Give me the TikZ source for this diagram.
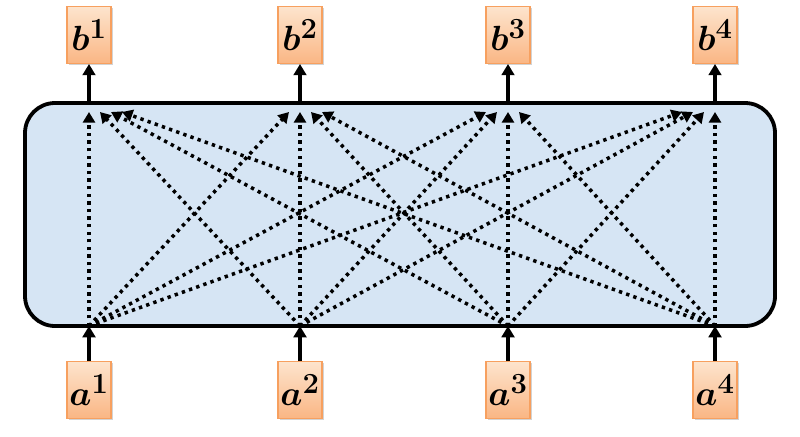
\documentclass[tikz,border=0pt]{standalone}
\usepackage{amsmath}
\usepackage{amssymb}
\usepackage{bm}
\usepackage{tikz}
\usetikzlibrary{arrows.meta , shadows}

\definecolor{boxline}{RGB}{247,160,95}
\definecolor{boxtop}{RGB}{253,228,205}
\definecolor{boxbottom}{RGB}{250,182,132}
\definecolor{layerfill}{RGB}{214,229,244}

\begin{document}
\begin{tikzpicture}[x = 0.025cm , y = -0.025cm ,
    unit/.style = {draw = boxline , line width = 0.8pt , top color = boxtop , bottom color = boxbottom ,
        minimum width = 1.1cm , minimum height = 1.42cm , inner sep = 0pt ,
        drop shadow = {opacity = 0.35 , shadow xshift = 1.2pt , shadow yshift = -1.2pt} ,
        font = \fontsize{29}{32}\selectfont} ,
    link/.style = {line width = 2.3pt , -{Triangle[length = 8pt , width = 9pt]}} ,
    mix/.style = {line width = 2.5pt , dash pattern = on 2.4pt off 3pt , -{Triangle[length = 7.5pt , width = 8.5pt]}}]
    \useasboundingbox (0,0) rectangle (800,436);
    \draw[line width = 2.7pt , fill = layerfill , rounded corners = 0.75cm] (25,103) rectangle (775,326); % Layer
    \foreach \i/\x in {1/89 , 2/300 , 3/508 , 4/715}{
        \coordinate (in\i) at (\x,326);
        \coordinate (top\i) at (\x,103);
        \node[unit] (a\i) at (\x,390) {$\bm{a^{\i}}$};
        \node[unit] (b\i) at (\x,35) {$\bm{b^{\i}}$};
        \draw[link] (a\i) -- (in\i);
        \draw[link] (top\i) -- (b\i);
    }
    \foreach \i in {1,...,4}{
        \foreach \j in {1,...,4}{
            \coordinate (out\i\j) at ([xshift = {(\i-\j)*0.275cm}] top\j |- 0,112);
            \draw[mix] (in\i) -- (out\i\j); % Σύνδεση
        }
    }
\end{tikzpicture}
\end{document}
